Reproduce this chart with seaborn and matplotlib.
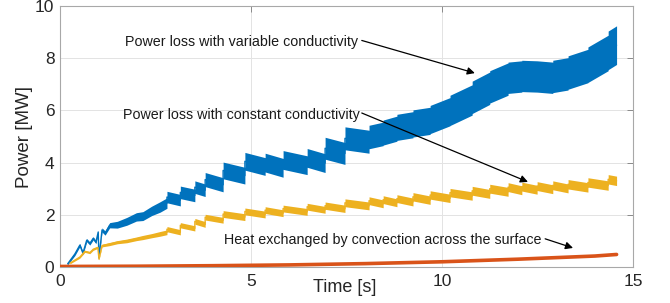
import numpy as np
import pandas as pd
import matplotlib
matplotlib.use("Agg")
import matplotlib.pyplot as plt
import seaborn as sns

# ---------------- data ----------------
# early, oscillating part (before the staircase starts)
blue_early_t = [0.2, 0.39, 0.52, 0.6, 0.7, 0.78, 0.87, 0.94, 1.0, 1.02, 1.1, 1.18, 1.3, 1.5, 1.75, 2.0, 2.17, 2.4, 2.62, 2.8]
blue_early_mid = [0.12, 0.5, 0.84, 0.53, 1.03, 0.9, 1.1, 0.95, 1.34, 0.35, 1.42, 1.3, 1.6, 1.62, 1.75, 1.92, 1.95, 2.15, 2.3, 2.45]
blue_early_half = [0.04, 0.06, 0.06, 0.06, 0.06, 0.06, 0.06, 0.06, 0.06, 0.04, 0.08, 0.08, 0.1, 0.13, 0.15, 0.16, 0.17, 0.18, 0.2, 0.2]

yel_early_t = [0.26, 0.52, 0.65, 0.78, 0.87, 0.99, 1.02, 1.1, 1.3, 1.5, 1.75, 2.0, 2.17, 2.4, 2.62, 2.8]
yel_early_mid = [0.15, 0.38, 0.6, 0.55, 0.68, 0.75, 0.3, 0.82, 0.88, 0.95, 1.0, 1.08, 1.13, 1.2, 1.27, 1.33]
yel_early_half = [0.03, 0.04, 0.04, 0.04, 0.04, 0.04, 0.03, 0.05, 0.06, 0.06, 0.07, 0.07, 0.08, 0.08, 0.09, 0.09]

# staircase (sawtooth) part: jump times and per-segment start / end levels
step_times = [2.8, 3.15, 3.53, 3.8, 4.27, 4.84, 5.37, 5.84, 6.47, 6.94, 7.46, 8.09, 8.46,
              8.82, 9.24, 9.69, 10.21, 10.79, 11.25, 11.73, 12.09, 12.49, 12.9, 13.3,
              13.82, 14.35, 14.57]

blue_seg_start = [2.68, 2.86, 3.06, 3.35, 3.7, 4.05, 4.0, 4.1, 4.18, 4.55, 4.93, 4.98, 5.15,
                  5.35, 5.5, 5.65, 6.0, 6.5, 6.9, 7.25, 7.32, 7.3, 7.3, 7.45, 7.75, 8.3]
blue_seg_end = [2.56, 2.74, 2.94, 3.15, 3.5, 3.85, 3.8, 3.9, 3.98, 4.35, 4.8, 5.1, 5.3,
                5.45, 5.6, 5.95, 6.4, 6.85, 7.2, 7.3, 7.3, 7.25, 7.4, 7.7, 8.2, 8.5]
blue_seg_half = [0.22, 0.24, 0.24, 0.27, 0.32, 0.34, 0.36, 0.36, 0.36, 0.42, 0.44, 0.45, 0.48,
                 0.5, 0.52, 0.54, 0.58, 0.62, 0.62, 0.6, 0.6, 0.6, 0.62, 0.64, 0.68, 0.74]

yel_seg_start = [1.45, 1.6, 1.75, 1.91, 2.03, 2.13, 2.18, 2.24, 2.31, 2.35, 2.46, 2.54, 2.58,
                 2.62, 2.69, 2.76, 2.85, 2.92, 3.0, 3.06, 3.08, 3.1, 3.13, 3.17, 3.24, 3.36]
yel_seg_end = [1.33, 1.48, 1.63, 1.79, 1.91, 2.01, 2.06, 2.11, 2.19, 2.23, 2.34, 2.42, 2.46,
               2.49, 2.56, 2.63, 2.72, 2.8, 2.88, 2.94, 2.96, 2.98, 3.01, 3.05, 3.12, 3.3]
yel_seg_half = [0.1, 0.1, 0.11, 0.11, 0.13, 0.13, 0.13, 0.13, 0.13, 0.14, 0.15, 0.15, 0.15,
                0.15, 0.16, 0.16, 0.16, 0.17, 0.17, 0.17, 0.17, 0.17, 0.17, 0.18, 0.18, 0.18]

red_t = [0, 2, 4, 6, 8, 10, 12, 14, 14.57]
red_p = [0.02, 0.03, 0.05, 0.08, 0.13, 0.2, 0.3, 0.42, 0.48]

labels = ["Power loss with variable conductivity",
          "Power loss with constant conductivity",
          "Heat exchanged by convection across the surface"]
x_ticks = [0, 5, 10, 15]
y_ticks = [0, 2, 4, 6, 8, 10]

# ---------------- assemble series ----------------
def build(early_t, early_mid, early_half, seg_start, seg_end, seg_half):
    t, m, h = list(early_t), list(early_mid), list(early_half)
    for i in range(len(seg_start)):
        t += [step_times[i], step_times[i + 1]]
        m += [seg_start[i], seg_end[i]]
        h += [seg_half[i], seg_half[i]]
    return map(np.array, (t, m, h))

bt, bm, bh = build(blue_early_t, blue_early_mid, blue_early_half, blue_seg_start, blue_seg_end, blue_seg_half)
yt, ym, yh = build(yel_early_t, yel_early_mid, yel_early_half, yel_seg_start, yel_seg_end, yel_seg_half)

C_BLUE = "#0072BD"
C_YEL = "#EDB120"
C_RED = "#D95319"

# ---------------- figure ----------------
sns.set_style("white")
plt.rcParams["font.family"] = ["Liberation Sans", "DejaVu Sans"]

fig = plt.figure(figsize=(6.7, 3.03), dpi=100)
ax = fig.add_axes([60 / 670, 1 - 267 / 303, 573 / 670, 261 / 303])

ax.fill_between(bt, bm - bh, bm + bh, color=C_BLUE, lw=0, zorder=2)
sns.lineplot(x=bt, y=bm, ax=ax, color=C_BLUE, lw=1.0, estimator=None, sort=False, zorder=2)
ax.fill_between(yt, ym - yh, ym + yh, color=C_YEL, lw=0, zorder=3)
sns.lineplot(x=yt, y=ym, ax=ax, color=C_YEL, lw=1.0, estimator=None, sort=False, zorder=3)
sns.lineplot(x=red_t, y=red_p, ax=ax, color=C_RED, lw=2.6, estimator=None, sort=False, zorder=4)

ax.set_xlim(0, 15)
ax.set_ylim(0, 10)
ax.set_xticks(x_ticks)
ax.set_yticks(y_ticks)
ax.grid(True, color="#e3e3e3", lw=0.7)
ax.set_axisbelow(True)
for s in ax.spines.values():
    s.set_color("#a8a8a8")
    s.set_linewidth(0.8)
ax.tick_params(axis="both", direction="in", length=4, width=0.7, color="#8a8a8a",
               labelcolor="#262626", labelsize=12.5, top=True, right=True)
ax.tick_params(axis="x", pad=5)
ax.tick_params(axis="y", pad=4)

ax.set_xlabel("Time [s]", fontsize=13, color="#262626")
ax.set_ylabel("Power [MW]", fontsize=13.5, color="#262626")
ax.xaxis.set_label_coords(0.497, -0.045)
ax.yaxis.set_label_coords(-0.047, 0.5)

# annotations
txt_kw = dict(fontsize=10.3, color="#1a1a1a", ha="left", va="center", zorder=6)
arr_kw = dict(arrowstyle="-|>", color="black", lw=0.9, mutation_scale=11,
              shrinkA=0, shrinkB=0)
ax.text(1.70, 8.62, labels[0], **txt_kw)
ax.annotate("", xy=(10.86, 7.43), xytext=(7.9, 8.68), arrowprops=arr_kw, zorder=6)
ax.text(1.65, 5.82, labels[1], **txt_kw)
ax.annotate("", xy=(12.25, 3.26), xytext=(7.9, 5.9), arrowprops=arr_kw, zorder=6)
ax.text(4.29, 1.03, labels[2], **txt_kw)
ax.annotate("", xy=(13.43, 0.73), xytext=(12.7, 1.08), arrowprops=arr_kw, zorder=6)

fig.savefig("out.png", dpi=100)
